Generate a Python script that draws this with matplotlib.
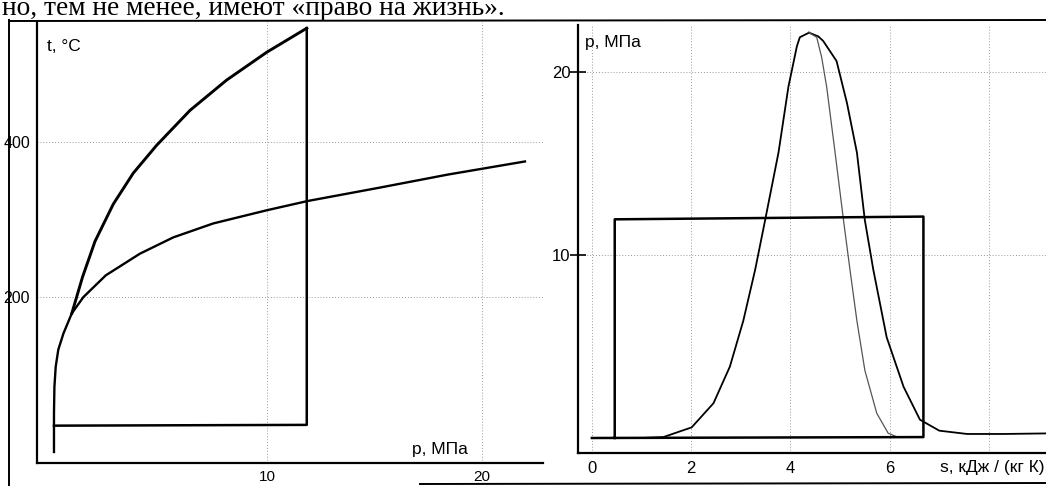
import matplotlib
matplotlib.use("Agg")
import matplotlib.pyplot as plt
from matplotlib.lines import Line2D

# ---------------- data (left: t-p diagram) ----------------
sat_p = [0.09, 0.09, 0.11, 0.17, 0.29, 0.53, 0.92, 1.46, 2.5, 4.09, 5.64, 7.5, 9.99, 11.9, 15.2, 18.4, 22.0]
sat_t = [0, 50, 84, 110, 132, 153, 179, 200, 228, 256, 277, 295, 312, 324, 341, 358, 375]
sup_p = [0.92, 1.42, 2.0, 2.85, 3.78, 4.87, 6.42, 8.12, 9.99, 11.85]
sup_t = [179, 226, 272, 320, 360, 396, 441, 480, 516, 547]
cyc_p = [0.09, 11.85, 11.85]
cyc_t = [34, 35, 547]
left_xticks = [10, 20]
left_yticks = [200, 400]

# ---------------- data (right: p-s diagram) ----------------
liq_s = [1.0, 1.44, 2.01, 2.45, 2.78, 3.05, 3.29, 3.49, 3.76, 3.96, 4.13, 4.19, 4.375]
liq_p = [0.0, 0.05, 0.58, 1.9, 3.9, 6.4, 9.2, 11.9, 15.6, 19.2, 21.4, 21.9, 22.15]
vap_s = [4.375, 4.56, 4.66, 4.93, 5.14, 5.34, 5.50, 5.67, 5.94, 6.28, 6.61, 7.0, 7.56, 8.3, 9.15]
vap_p = [22.15, 21.95, 21.7, 20.6, 18.3, 15.6, 11.9, 9.2, 5.5, 2.8, 1.0, 0.4, 0.22, 0.22, 0.25]
inn_s = [4.375, 4.53, 4.63, 4.73, 4.9, 5.07, 5.2, 5.34, 5.5, 5.74, 5.97, 6.14]
inn_p = [22.15, 21.9, 20.8, 19.2, 15.6, 11.9, 9.2, 6.4, 3.7, 1.35, 0.26, 0.07]
rect_s = [0.0, 6.68, 6.68, 0.46, 0.46]
rect_p = [0.0, 0.05, 12.1, 11.95, 0.0]
right_xticks = [0, 2, 4, 6, 8]
right_xlabels = ["0", "2", "4", "6", ""]
right_yticks = [10, 20]

W, H = 1046, 486
fig = plt.figure(figsize=(W / 100, H / 100), dpi=100)
fig.patch.set_facecolor("white")
sans = ["Liberation Sans", "DejaVu Sans"]
grid_kw = dict(color="#9a9a9a", lw=0.7, ls=(0, (1, 2)))

def fx(px):
    return px / W

def fy(py):
    return 1 - py / H

# ---------------- left axes ----------------
axL = fig.add_axes([fx(37), fy(463), fx(543 - 37), (463 - 22) / H])
axL.set_xlim(-0.70, 22.84)
axL.set_ylim(-14.2, 555)
for sp in ("top", "right"):
    axL.spines[sp].set_visible(False)
for sp in ("left", "bottom"):
    axL.spines[sp].set_linewidth(1.6)
axL.set_xticks(left_xticks)
axL.set_yticks(left_yticks)
axL.tick_params(axis="y", length=0, labelsize=11.5, pad=5)
axL.tick_params(axis="x", length=0, labelsize=11, pad=5)
for lab in axL.get_xticklabels() + axL.get_yticklabels():
    lab.set_family(sans)
axL.grid(True, **grid_kw)
axL.plot(sat_p, sat_t, color="black", lw=1.7, solid_joinstyle="round")
axL.plot(sup_p, sup_t, color="black", lw=2.1, solid_joinstyle="round")
axL.plot(cyc_p, cyc_t, color="black", lw=1.8)
axL.text(0.02, 0.945, "t, °C", transform=axL.transAxes, family=sans, fontsize=12.5,
         ha="left", va="center")
axL.text(0.741, 0.03, "p, МПа", transform=axL.transAxes, family=sans, fontsize=12.5,
         ha="left", va="center")

# ---------------- right axes ----------------
axR = fig.add_axes([fx(578), fy(453), fx(1046 - 578), (453 - 25) / H])
axR.set_xlim(-0.28, 9.15)
axR.set_ylim(-0.82, 22.57)
for sp in ("top", "right"):
    axR.spines[sp].set_visible(False)
for sp in ("left", "bottom"):
    axR.spines[sp].set_linewidth(1.6)
axR.set_xticks(right_xticks)
axR.set_xticklabels(right_xlabels)
axR.set_yticks(right_yticks)
axR.tick_params(axis="x", length=0, labelsize=12, pad=6)
axR.tick_params(axis="y", length=11, width=1.2, direction="inout", labelsize=12, pad=0)
for lab in axR.get_xticklabels() + axR.get_yticklabels():
    lab.set_family(sans)
axR.grid(True, **grid_kw)
axR.plot(liq_s, liq_p, color="black", lw=1.3, solid_joinstyle="round")
axR.plot(vap_s, vap_p, color="black", lw=1.3, solid_joinstyle="round")
axR.plot(inn_s, inn_p, color="#555555", lw=0.9, solid_joinstyle="round")
axR.plot(rect_s, rect_p, color="black", lw=1.8)
axR.text(0.015, 0.96, "p, МПа", transform=axR.transAxes, family=sans, fontsize=12.5,
         ha="left", va="center")
axR.text(0.997, -0.035, "s, кДж / (кг К)", transform=axR.transAxes, family=sans, fontsize=12.5,
         ha="right", va="center")

# ---------------- page frame and scanned text ----------------
fig.add_artist(Line2D([fx(9), fx(9)], [fy(20), fy(486)], color="black", lw=1.4))
fig.add_artist(Line2D([fx(9), 1.0], [fy(21), fy(20)], color="black", lw=1.4))
fig.add_artist(Line2D([fx(420), 1.0], [fy(484), fy(483)], color="black", lw=1.4))
fig.text(fx(2), fy(15), "но, тем не менее, имеют «право на жизнь».",
         family=["Liberation Serif", "DejaVu Serif"], fontsize=19.7, ha="left", va="baseline")

fig.savefig("out.png", dpi=100)
